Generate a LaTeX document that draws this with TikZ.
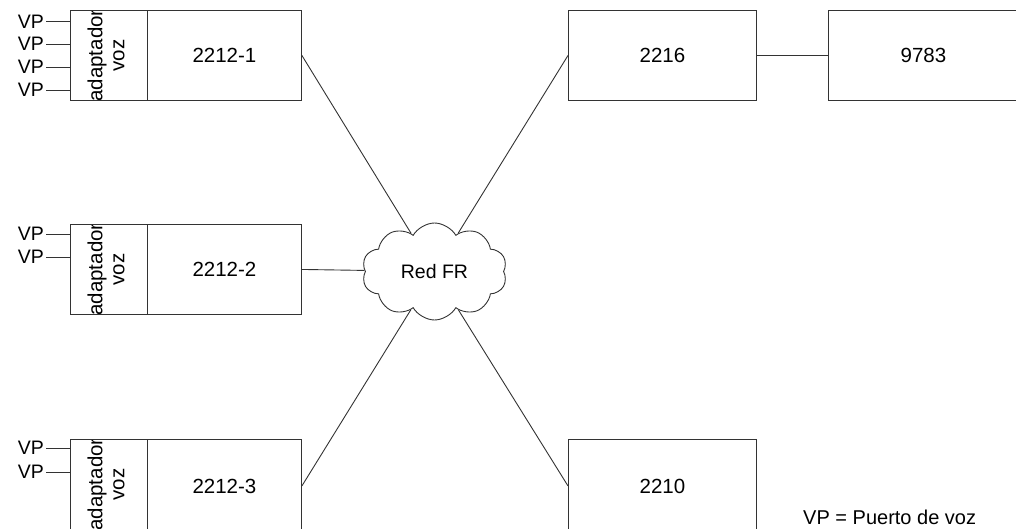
\documentclass[tikz,border=0pt]{standalone}
\usepackage{fontspec}
\setmainfont{Liberation Sans}
\usetikzlibrary{shapes.symbols}
\begin{document}
\begin{tikzpicture}[x=1pt,y=-1pt,
  edge/.style={draw=black!80,line width=0.9pt},
  box/.style={draw=black!80,line width=0.9pt,minimum width=#1,minimum height=90pt,
    inner sep=0pt,anchor=north west,font=\fontsize{20.5}{24}\selectfont},
  tallbox/.style={box=#1,minimum height=93pt},
  adapterlabel/.style={path picture={
    \node[rotate=90,anchor=center,align=center,inner sep=0pt,draw=none,
      font=\fontsize{20.5}{22}\selectfont]
      at ([xshift=-3pt,yshift=#1]path picture bounding box.center) {adaptador\\voz};}},
  adapterlabel/.default=0pt,
  vp/.style={anchor=east,inner sep=0pt,inner xsep=2pt,font=\fontsize{19.5}{23}\selectfont},
]
\useasboundingbox (0,0) rectangle (1016,529);

% router 2212-1 with its voice adapter
\node[box=77pt,adapterlabel] (a1) at (70,10) {};
\node[box=154pt] (m1) at (147,10) {2212-1};
% router 2212-2
\node[box=77pt,adapterlabel] (a2) at (70,224) {};
\node[box=154pt] (m2) at (147,224) {2212-2};
% router 2212-3
\node[tallbox=77pt,adapterlabel=1.5pt] (a3) at (70,439) {};
\node[tallbox=154pt] (m3) at (147,439) {2212-3};
% right-hand equipment
\node[box=188pt] (r2216) at (568,10) {2216};
\node[box=190pt] (r9783) at (828,10) {9783};
\node[tallbox=188pt] (r2210) at (568,439) {2210};

% frame relay network
\node[cloud,draw=black!80,line width=0.9pt,cloud puffs=10,cloud puff arc=120,aspect=1.5,
  minimum width=145pt,minimum height=97pt,inner sep=0pt,
  font=\fontsize{19.5}{23}\selectfont] (fr) at (434.5,271.5) {Red FR};

% voice ports
\node[vp] (v11) at (46,21.5) {VP};
\node[vp] (v12) at (46,44) {VP};
\node[vp] (v13) at (46,67) {VP};
\node[vp] (v14) at (46,90) {VP};
\node[vp] (v21) at (46,234) {VP};
\node[vp] (v22) at (46,257) {VP};
\node[vp] (v31) at (46,448) {VP};
\node[vp] (v32) at (46,472) {VP};
\foreach \v/\a in {v11/a1,v12/a1,v13/a1,v14/a1,v21/a2,v22/a2,v31/a3,v32/a3}
  \draw[edge] (\v.east) -- (\v.east -| \a.west);

% links to the cloud
\draw[edge] (m1.east) -- (fr);
\draw[edge] (m2.east) -- (fr);
\draw[edge] (m3.east) -- (fr);
\draw[edge] (r2216.west) -- (fr);
\draw[edge] (r2210.west) -- (fr);
\draw[edge] (r2216.east) -- (r2216.east -| r9783.west);

% legend
\node[anchor=base west,inner sep=0pt,font=\fontsize{20}{24}\selectfont] (legend)
  at (803,524.5) {VP = Puerto de voz};
\end{tikzpicture}
\end{document}
